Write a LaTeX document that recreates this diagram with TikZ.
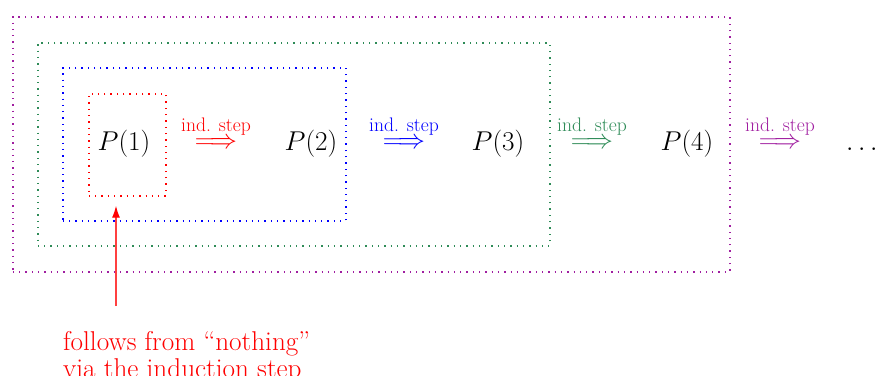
\RequirePackage{fix-cm}
\documentclass[tikz,border=0pt]{standalone}
\usepackage{amsmath}
\usetikzlibrary{arrows.meta}
\definecolor{vio}{RGB}{160,30,160}
\definecolor{sgreen}{RGB}{46,139,87}
\tikzset{
  dotbox/.style={line width=1.7pt, dash pattern=on 1.3pt off 5pt, inner sep=0pt, anchor=north west},
  bigtxt/.style={font=\fontsize{27.2}{27}\selectfont, inner sep=0pt},
  notetxt/.style={font=\fontsize{27.2}{27}\selectfont, inner sep=0pt},
  lbl/.style={font=\fontsize{19.6}{22}\selectfont, inner sep=0pt},
}
\begin{document}
\begin{tikzpicture}[x=1pt,y=-1pt]
\useasboundingbox (0,0) rectangle (875,375);
% boxes
\node[dotbox, draw=vio, minimum width=717pt, minimum height=255pt] (b4) at (12,16) {};
\node[dotbox, draw=sgreen, minimum width=512pt, minimum height=203pt] (b3) at (37,42) {};
\node[dotbox, draw=blue, minimum width=283pt, minimum height=153pt] (b2) at (62,67) {};
\node[dotbox, draw=red, minimum width=77pt, minimum height=102pt] (b1) at (88,93) {};
% statements
\node[bigtxt, anchor=base] (p1) at (124,150) {$P(1)$};
\node[bigtxt, anchor=base] (p2) at (311,150) {$P(2)$};
\node[bigtxt, anchor=base] (p3) at (498,150) {$P(3)$};
\node[bigtxt, anchor=base] (p4) at (687,150) {$P(4)$};
\node[bigtxt, anchor=base west] (p5) at (846,150) {$\ldots$};
% implication arrows
\node[bigtxt, anchor=base, text=red] (a1) at (216,148) {$\Longrightarrow$};
\node[bigtxt, anchor=base, text=blue] (a2) at (404,148) {$\Longrightarrow$};
\node[bigtxt, anchor=base, text=sgreen] (a3) at (592,148) {$\Longrightarrow$};
\node[bigtxt, anchor=base, text=vio] (a4) at (780,148) {$\Longrightarrow$};
\node[lbl, anchor=base, text=red] (l1) at (216,131) {ind. step};
\node[lbl, anchor=base, text=blue] (l2) at (404,131) {ind. step};
\node[lbl, anchor=base, text=sgreen] (l3) at (592,131) {ind. step};
\node[lbl, anchor=base, text=vio] (l4) at (780,131) {ind. step};
% note
\node[notetxt, text=red, anchor=base west, align=left] (note) at (63,377) {follows from “nothing”\\via the induction step};
\coordinate (tail) at (116,306);
\draw[red!75, line width=1.2pt, -{Latex[length=12pt,width=8pt,color=red]}, shorten >=9pt] (tail) -- (b1.south -| tail);
\end{tikzpicture}
\end{document}
